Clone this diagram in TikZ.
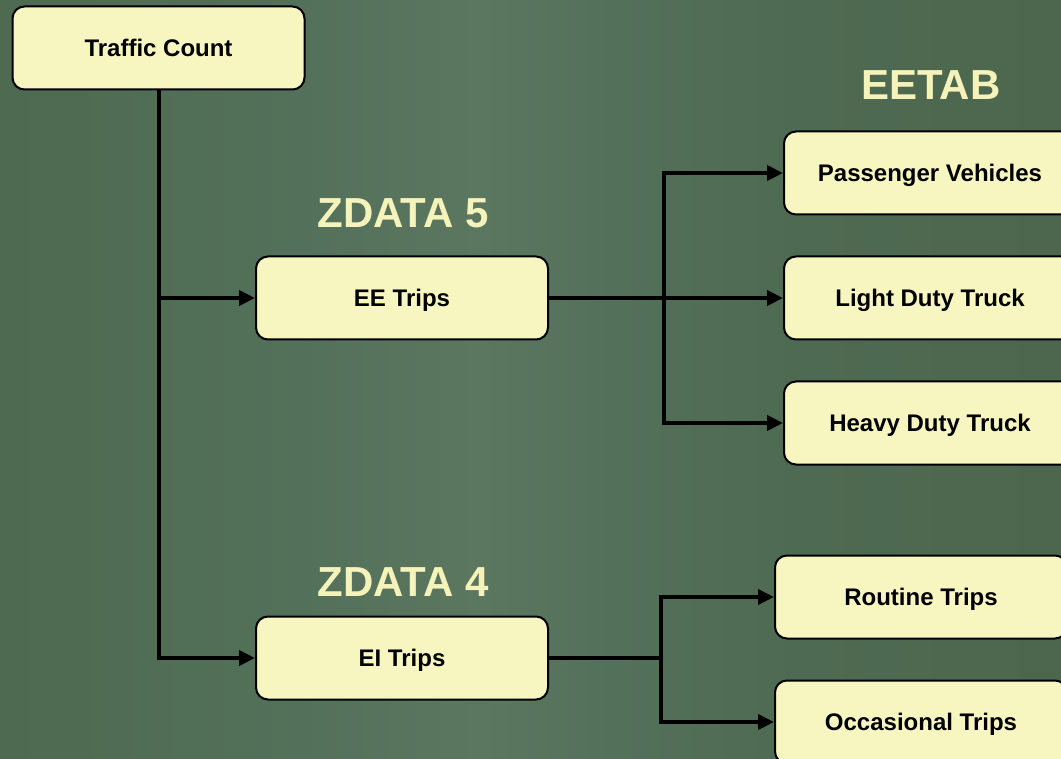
\documentclass[tikz,border=0pt]{standalone}
\usepackage{fontspec}
\setmainfont{Liberation Sans}
\usetikzlibrary{arrows.meta}

\definecolor{bgA}{HTML}{4E6A50}
\definecolor{bgB}{HTML}{53705A}
\definecolor{bgC}{HTML}{5C7760}
\definecolor{bgD}{HTML}{4F6A52}
\definecolor{bgE}{HTML}{4D674E}
\definecolor{boxfill}{HTML}{F8F6C0}
\definecolor{titlecol}{HTML}{F5F3BA}

% soft green backdrop, lighter towards the middle
\pgfdeclarehorizontalshading{backdrop}{100bp}{%
  color(0bp)=(bgA); color(25bp)=(bgA);
  color(39bp)=(bgB); color(47.6bp)=(bgC); color(54bp)=(bgB);
  color(62.7bp)=(bgD); color(75bp)=(bgE); color(100bp)=(bgE)}

\tikzset{
  stage/.style={draw=black, line width=2pt, fill=boxfill,
    rounded corners=12pt, minimum width=292pt, minimum height=83pt,
    inner sep=0pt, text height=17pt, text depth=0pt,
    font=\fontsize{24}{27}\selectfont\bfseries},
  heading/.style={text=titlecol, inner sep=0pt,
    font=\fontsize{42}{46}\selectfont\bfseries},
  link/.style={line width=4pt, line join=miter, draw=black},
  tip/.style={-{Triangle[length=16pt,width=15pt]}},
  tips/.style={{Triangle[length=16pt,width=15pt]}-{Triangle[length=16pt,width=15pt]}}
}

\begin{document}
\begin{tikzpicture}[x=1pt, y=-1pt]
  \useasboundingbox (0,0) rectangle (1061,759);
  \clip (0,0) rectangle (1061,759);
  \shade[shading=backdrop] (0,0) rectangle (1061,759);

  % section headings
  \node[heading] (h5) at (403,213) {ZDATA 5};
  \node[heading] (h4) at (403,582) {ZDATA 4};
  \node[heading] (hx) at (931,85) {EETAB};

  % boxes
  \node[stage] (tc)  at (158.5,48) {Traffic Count};
  \node[stage] (ee)  at (402,298)  {EE Trips};
  \node[stage] (ei)  at (402,658)  {EI Trips};
  \node[stage] (pv)  at (930,173)  {Passenger Vehicles};
  \node[stage] (ldt) at (930,298)  {Light Duty Truck};
  \node[stage] (hdt) at (930,423)  {Heavy Duty Truck};
  \node[stage] (rt)  at (921,597)  {Routine Trips};
  \node[stage] (ot)  at (921,722)  {Occasional Trips};

  % junction points
  \coordinate (j1) at (664,298);
  \coordinate (j2) at (661,658);

  % traffic count feeds both trip tables
  \draw[link, tip] (tc.south) |- (ei.west);
  \draw[link, tip] (tc.south |- ee.west) -- (ee.west);

  % EE trips split by vehicle class
  \draw[link, tip] (ee.east) -- (ldt.west);
  \draw[link, tips] (pv.west) -| (j1) |- (hdt.west);

  % EI trips split by trip purpose
  \draw[link] (ei.east) -- (j2);
  \draw[link, tips] (rt.west) -| (j2) |- (ot.west);
\end{tikzpicture}
\end{document}
